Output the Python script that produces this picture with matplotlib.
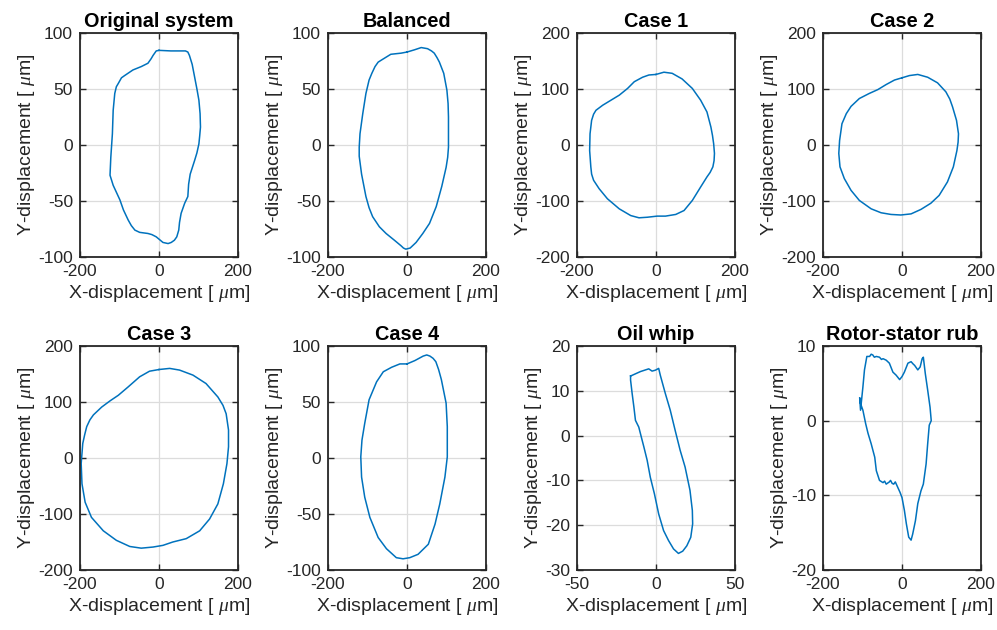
import numpy as np
import matplotlib
matplotlib.use("Agg")
import matplotlib.pyplot as plt

plt.rcParams['font.family'] = ['Liberation Sans', 'DejaVu Sans']
plt.rcParams['mathtext.fontset'] = 'custom'
plt.rcParams['mathtext.it'] = 'Liberation Serif:italic'
plt.rcParams['axes.unicode_minus'] = False

# orbit traces (x, y in micrometres)
orig_x = [0, 30, 67, 73, 77, 84, 90, 96, 101, 104, 105, 103, 101, 96, 90, 79, 75, 73, 65, 56, 52, 50, 45, 39, 31, 23, 10, -7, -18, -28, -49, -61, -70, -78, -90, -99, -116, -124, -122, -118, -116, -112, -108, -103, -95, -87, -66, -45, -28, -20, -15, -7, 0]
orig_y = [84.5, 84, 84, 83, 80, 72, 61, 50, 40, 28, 16, 8, 1, -7, -14, -26, -35, -46, -52, -61, -69, -76, -82, -85, -87, -88, -87, -82, -80, -79, -78, -76, -72, -67, -58, -49, -36, -27, -11, 10, 31, 46, 52, 55, 60, 62, 67, 70, 73, 77, 80, 84, 84.5]

bal_x = [0, 19, 36, 52, 62, 69, 76, 82, 93, 101, 104, 105, 105, 103, 99, 88, 74, 57, 40, 23, 8, -3, -9, -15, -32, -53, -70, -87, -96, -104, -115, -121, -121, -119, -112, -104, -96, -89, -81, -73, -64, -41, -15, 0]
bal_y = [83, 85, 87, 86, 84, 82, 78, 74, 64, 49, 37, 25, -2, -11, -20, -37, -55, -70, -79, -87, -92, -93, -92, -90, -85, -79, -73, -64, -56, -46, -26, -10, -2, 10, 28, 46, 58, 64, 70, 74, 76, 81, 82, 83]

c1_x = [0, 20, 41, 66, 92, 113, 129, 139, 143, 146, 148, 147, 144, 137, 129, 113, 92, 71, 50, 24, 3, -22, -43, -64, -93, -123, -144, -158, -163, -165, -168, -167, -163, -158, -152, -135, -114, -93, -72, -55, -34, -18, 0]
c1_y = [126, 130, 128, 118, 101, 80, 59, 32, 17, 2, -15, -28, -39, -49, -57, -75, -99, -117, -124, -127, -127, -129, -130, -126, -114, -96, -78, -63, -52, -39, -10, 20, 44, 55, 62, 71, 80, 89, 101, 113, 121, 125, 126]

c2_x = [0, 19, 40, 65, 90, 111, 121, 128, 138, 143, 142, 139, 130, 115, 94, 73, 48, 23, -3, -28, -53, -78, -108, -129, -146, -157, -160, -158, -152, -141, -129, -108, -83, -61, -40, -19, 0]
c2_y = [120, 124, 126, 121, 111, 95, 82, 68, 44, 20, 5, -10, -39, -66, -90, -104, -115, -123, -125, -124, -121, -114, -99, -81, -60, -39, -15, 8, 38, 56, 69, 83, 92, 99, 108, 116, 120]

c3_x = [0, 27, 52, 86, 119, 149, 162, 170, 176, 176, 172, 163, 149, 128, 103, 69, 35, 10, -15, -45, -74, -108, -141, -171, -187, -195, -197, -193, -188, -183, -175, -166, -145, -124, -103, -78, -49, -24, 0]
c3_y = [158, 160, 157, 148, 133, 109, 94, 79, 50, 20, -10, -46, -82, -109, -130, -144, -150, -156, -159, -161, -158, -147, -130, -106, -79, -46, -10, 26, 42, 56, 68, 77, 91, 102, 112, 127, 145, 155, 158]

c4_x = [0, 20, 41, 50, 58, 66, 73, 80, 87, 99, 102, 102, 96, 83, 71, 54, 28, 7, -10, -27, -52, -73, -94, -107, -115, -117, -114, -107, -96, -77, -60, -39, -18, 0]
c4_y = [84, 87, 91, 92, 91, 89, 86, 79, 70, 49, 28, 1, -17, -41, -59, -77, -86, -89, -90, -89, -81, -71, -53, -35, -17, 1, 16, 31, 52, 68, 77, 81, 84, 84]

whip_x = [-16.1, -9.8, -4.6, -2.5, -0.4, 1.7, 2.7, 5.9, 9.0, 12.1, 15.3, 18.4, 21.5, 23.0, 23.2, 22.0, 19.5, 16.9, 14.2, 11.1, 7.9, 4.8, 1.7, -1.0, -3.6, -5.6, -7.7, -8.8, -10.9, -13.0, -14.0, -15.1, -16.1, -16.1]
whip_y = [13.3, 14.3, 14.9, 14.4, 14.6, 15.0, 13.5, 9.4, 5.7, 1.2, -3.3, -7.0, -12.2, -16.7, -19.7, -22.7, -24.6, -25.8, -26.3, -25.3, -23.4, -21.2, -17.5, -13.0, -9.3, -5.5, -2.5, -1.0, 1.9, 3.4, 6.4, 9.4, 12.4, 13.3]

rub_x = [-107, -105, -99, -95, -89, -82, -78, -74, -70, -65, -57, -52, -48, -40, -32, -23, -15, -6, 0, 6, 15, 23, 28, 32, 40, 46, 51, 54, 59, 65, 71, 74, 69, 65, 61, 54, 48, 40, 34, 27, 23, 17, 11, 6, 0, -5, -11, -17, -21, -25, -29, -32, -40, -44, -48, -57, -65, -69, -73, -78, -86, -92, -99, -105, -107]
rub_y = [3.0, 1.4, 4.5, 6.8, 8.6, 8.6, 8.9, 8.8, 8.5, 8.6, 8.5, 8.2, 8.3, 8.1, 7.7, 6.5, 6.1, 5.5, 5.9, 6.5, 7.7, 7.9, 7.6, 7.4, 6.8, 7.2, 8.3, 8.5, 6.3, 4.1, 1.8, 0.0, -0.6, -3.1, -5.8, -8.5, -9.4, -11.1, -13.4, -15.2, -16.0, -15.6, -13.8, -12.0, -10.3, -9.6, -8.9, -8.2, -8.5, -8.4, -8.0, -8.2, -8.5, -8.1, -8.3, -8.0, -6.7, -4.9, -4.1, -3.1, -1.7, -0.4, 1.4, 2.3, 3.0]

titles = ['Original system', 'Balanced', 'Case 1', 'Case 2',
          'Case 3', 'Case 4', 'Oil whip', 'Rotor-stator rub']
xs = [orig_x, bal_x, c1_x, c2_x, c3_x, c4_x, whip_x, rub_x]
ys = [orig_y, bal_y, c1_y, c2_y, c3_y, c4_y, whip_y, rub_y]
xlims = [(-200, 200)] * 6 + [(-50, 50), (-200, 200)]
ylims = [(-100, 100), (-100, 100), (-200, 200), (-200, 200),
         (-200, 200), (-100, 100), (-30, 20), (-20, 10)]
xticks = [[-200, 0, 200]] * 6 + [[-50, 0, 50], [-200, 0, 200]]
yticks = [[-100, -50, 0, 50, 100], [-100, -50, 0, 50, 100],
          [-200, -100, 0, 100, 200], [-200, -100, 0, 100, 200],
          [-200, -100, 0, 100, 200], [-100, -50, 0, 50, 100],
          [-30, -20, -10, 0, 10, 20], [-20, -10, 0, 10]]

fig = plt.figure(figsize=(9.97, 6.30), dpi=100)
W, H = 997, 630
lefts = [80, 328, 577, 823]
tops = [33, 346]
aw, ah = 158, 224

for i in range(8):
    r, c = divmod(i, 4)
    ax = fig.add_axes([lefts[c] / W, (H - tops[r] - ah) / H, aw / W, ah / H])
    ax.plot(xs[i], ys[i], color='#0072BD', lw=1.1)
    ax.set_xlim(xlims[i])
    ax.set_ylim(ylims[i])
    ax.set_xticks(xticks[i])
    ax.set_yticks(yticks[i])
    ax.grid(True, color='#dcdcdc', lw=0.9)
    ax.set_axisbelow(True)
    ax.tick_params(direction='in', top=True, right=True, length=4, width=1.0,
                   labelsize=12.5, colors='#262626', pad=5)
    for s in ax.spines.values():
        s.set_linewidth(1.3)
        s.set_color('#262626')
    ax.set_title(titles[i], fontsize=14.3, fontweight='bold', pad=4)
    ax.set_xlabel(r'X-displacement [ $\mu$m]', fontsize=14, color='#262626', labelpad=3)
    ax.set_ylabel(r'Y-displacement [ $\mu$m]', fontsize=14, color='#262626', labelpad=1)

fig.savefig('out.png', dpi=100)
